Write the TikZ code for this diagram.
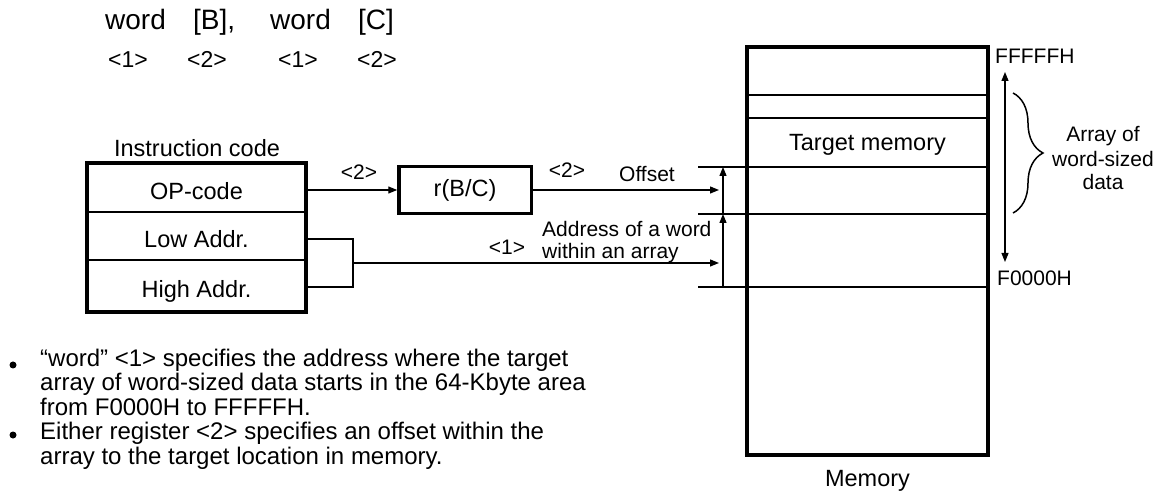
\documentclass[tikz,border=0pt]{standalone}
\usepackage{fontspec}
\setmainfont{Liberation Sans}
\usetikzlibrary{arrows.meta,decorations.pathreplacing}
\newcommand\myfs[1]{\fontsize{#1bp}{#1bp}\selectfont}
\begin{document}
\begin{tikzpicture}[x=1bp,y=-1bp,
  rowbox/.style={draw,line width=1.5bp,minimum width=219bp,inner sep=0pt,outer sep=0pt,
    text height=24bp,text depth=0pt,font=\myfs{23.5}},
  regbox/.style={draw,line width=3.5bp,minimum width=132.5bp,minimum height=47bp,inner sep=0pt,
    outer sep=0pt,font=\myfs{23.5}},
  membox/.style={draw,line width=3.5bp,minimum width=241bp,minimum height=408bp,inner sep=0pt,outer sep=0pt},
  frame/.style={line width=3.5bp},
  thinln/.style={line width=1.5bp},
  arr/.style={line width=1.2bp,-{Triangle[length=9bp,width=7bp]}},
  darr/.style={line width=1.2bp,{Triangle[length=9bp,width=7bp]}-{Triangle[length=9bp,width=7bp]}},
  lbl/.style={inner sep=0pt,font=\myfs{21}},
  big/.style={inner sep=0pt,font=\myfs{28},anchor=base west},
  mid/.style={inner sep=0pt,font=\myfs{23},anchor=base west},
  txt/.style={inner sep=0pt,font=\myfs{23.5}},
  bul/.style={inner sep=0pt,font=\fontsize{24bp}{24.5bp}\selectfont,align=left,anchor=base west}
]
\useasboundingbox (0,0) rectangle (1166,493);

% title line
\node[big] (t1) at (105,30) {word};
\node[big] (t2) at (193,30) {[B],};
\node[big] (t3) at (270,30) {word};
\node[big] (t4) at (358,30) {[C]};
\node[mid] (n1) at (108,68) {<1>};
\node[mid] (n2) at (187,68) {<2>};
\node[mid] (n3) at (278,68) {<1>};
\node[mid] (n4) at (357,68) {<2>};

% instruction code
\node[txt,anchor=base] (ictitle) at (197,156.5) {Instruction code};
\node[rowbox,minimum height=49bp] (op) at (196.5,187.5) {OP-code};
\node[rowbox,minimum height=48bp] (low) at (196.5,236) {Low Addr.};
\node[rowbox,minimum height=52bp] (high) at (196.5,286) {High Addr.};
\draw[frame] (op.north west) rectangle (high.south east);

% register
\node[regbox] (reg) at (465,190) {r(B/C)};
\draw[arr,shorten >=1.5bp] (op.east |- reg.west) -- (reg.west);
\node[lbl,anchor=base] (l2a) at (359,180) {<2>};

% memory
\node[membox] (mem) at (867.5,251) {};
\foreach \yy in {95,118} \draw[thinln] (747,\yy) -- (988,\yy);
\foreach \yy in {167,214,287} \draw[thinln] (698,\yy) -- (988,\yy);
\node[txt,anchor=base] (tm) at (867.5,151) {Target memory};
\node[txt,anchor=base] (memlbl) at (867.5,486) {Memory};

% offset arrow
\coordinate (offtip) at (719,190);
\draw[arr] (reg.east) -- (offtip);
\node[lbl,anchor=base] (l2b) at (567,178) {<2>};
\node[lbl,anchor=base] (offl) at (647,182) {Offset};

% address bracket and arrow
\coordinate (bkt) at (353,239);
\coordinate (bkb) at (353,287);
\coordinate (bk) at (353,263);
\coordinate (addrtip) at (719,263);
\draw[thinln] (low.east |- bkt) -- (bkt) -- (bkb) -- (high.east |- bkb);
\draw[arr] (bk) -- (addrtip);
\node[lbl,anchor=base] (l1) at (507,255) {<1>};
\node[lbl,anchor=base west] (addr1) at (542,237) {Address of a word};
\node[lbl,anchor=base west] (addr2) at (542,259) {within an array};

% vertical arrows
\coordinate (va) at (723,287);
\coordinate (vb) at (723,214);
\coordinate (vc) at (723,167);
\draw[arr] (va) -- (vb);
\draw[arr] (vb) -- (vc);

% address range
\node[lbl,anchor=base west] (fff) at (995,64) {FFFFFH};
\node[lbl,anchor=base west] (f00) at (997,286) {F0000H};
\coordinate (ra) at (1005,72);
\coordinate (rb) at (1005,262);
\draw[darr] (ra) -- (rb);
\coordinate (ba) at (1013,93);
\coordinate (bb) at (1013,213);
\draw[thinln,decorate,decoration={brace,amplitude=30bp}] (ba) -- (bb);
\node[lbl,anchor=base] (arr1) at (1103,142) {Array of};
\node[lbl,anchor=base] (arr2) at (1103,167) {word-sized};
\node[lbl,anchor=base] (arr3) at (1103,190) {data};

% bullets (base anchor = last line baseline)
\fill (13,365) circle (3.5bp);
\fill (13,435) circle (3.5bp);
\node[bul] (b1) at (40,415) {“word” <1> specifies the address where the target\\array of word-sized data starts in the 64-Kbyte area\\from F0000H to FFFFFH.};
\node[bul] (b2) at (40,464) {Either register <2> specifies an offset within the\\array to the target location in memory.};
\end{tikzpicture}
\end{document}
